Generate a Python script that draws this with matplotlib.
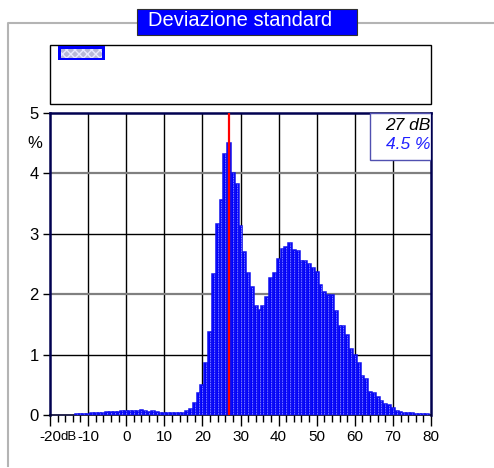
import matplotlib
matplotlib.use("Agg")
import matplotlib.pyplot as plt
from matplotlib.patches import Rectangle
import numpy as np

plt.rcParams['font.family'] = ['Liberation Sans', 'DejaVu Sans']

# histogram of the standard deviation (1 dB classes)
db_levels = list(range(-13, 80))
percent = [0.02, 0.02, 0.02, 0.02, 0.03, 0.03, 0.04, 0.04, 0.05, 0.05,
           0.05, 0.05, 0.06, 0.06, 0.06, 0.06, 0.07, 0.08, 0.06, 0.05,
           0.06, 0.05, 0.04, 0.04, 0.03, 0.03, 0.03, 0.03, 0.04, 0.06,
           0.10, 0.20, 0.37, 0.50, 0.86, 1.38, 2.33, 3.16, 3.56, 4.32,
           4.51, 4.00, 3.82, 3.13, 2.70, 2.35, 2.12, 1.80, 1.74, 1.80,
           1.96, 2.27, 2.35, 2.58, 2.75, 2.78, 2.84, 2.73, 2.72, 2.55,
           2.55, 2.50, 2.43, 2.37, 2.15, 2.04, 1.99, 1.99, 1.73, 1.47,
           1.47, 1.32, 1.09, 1.00, 0.86, 0.65, 0.60, 0.38, 0.37, 0.29,
           0.23, 0.18, 0.17, 0.11, 0.07, 0.05, 0.04, 0.03, 0.03, 0.015,
           0.015, 0.015, 0.015]
mode_db = 27
mode_pct = 4.5
x_ticks = [-20, -10, 0, 10, 20, 30, 40, 50, 60, 70, 80]
y_ticks = [0, 1, 2, 3, 4, 5]

W, H = 494, 468
fig = plt.figure(figsize=(W / 100, H / 100), dpi=100)

# overlay in pixel coordinates for frame, title and legend
bg = fig.add_axes([0, 0, 1, 1])
bg.set_xlim(0, W)
bg.set_ylim(H, 0)
bg.axis('off')
bg.plot([8, 8, W], [466, 23, 23], color='#b4b4b4', lw=1.5)
bg.add_patch(Rectangle((137, 9), 220, 26, facecolor='#0000ff', edgecolor='#303030', lw=0.8, zorder=3))
bg.text(240, 21, 'Deviazione standard', color='white', fontsize=14.5, ha='center', va='center', zorder=4)
bg.add_patch(Rectangle((50, 45), 381, 59, facecolor='white', edgecolor='black', lw=1))
bg.add_patch(Rectangle((58, 46), 47, 14, facecolor='#0000ff', edgecolor='none'))
bg.add_patch(Rectangle((61, 48.5), 41, 9, facecolor='#b8b8d8', edgecolor='#e8e8ff', hatch='xxxx', lw=0))
bg.text(35, 143, '%', fontsize=12, ha='center', va='center')

# main chart
ax = fig.add_axes([50 / W, (H - 415) / H, 381 / W, 302 / H])
ax.bar(db_levels, percent, width=1, color='#0000ff', edgecolor='#1010f0', lw=1.1, zorder=3)
ax.vlines(db_levels, 0, percent, colors='#b0b0ff', linestyles=(0, (1, 1)), lw=0.6, zorder=4)
ax.axvline(mode_db, color='#ff0000', lw=1.6, zorder=5)

ax.set_xlim(-20, 80)
ax.set_ylim(0, 5)
for xv in x_ticks[1:-1]:
    ax.axvline(xv, color='black', lw=1, zorder=1)
for yv in [1, 3]:
    ax.axhline(yv, color='black', lw=1, zorder=1)
for yv in [2, 4]:
    ax.axhline(yv, color='#808080', lw=1.6, zorder=1)

ax.set_xticks(x_ticks)
ax.set_xticks(np.arange(-20, 81, 2), minor=True)
ax.set_yticks(y_ticks)
ax.tick_params(axis='x', which='major', length=8, width=1, pad=3, labelsize=11)
ax.tick_params(axis='x', which='minor', length=5, width=1)
ax.tick_params(axis='y', length=5, width=1, pad=3, labelsize=12)
ax.set_xticklabels([str(v) for v in x_ticks])
ax.set_yticklabels([str(v) for v in y_ticks])
ax.annotate('dB', xy=(-15.0, 0), xytext=(0, -11.5), textcoords='offset points',
            fontsize=9.5, ha='center', va='top', annotation_clip=False)

for side in ['top', 'right', 'left']:
    ax.spines[side].set_color('#000050')
    ax.spines[side].set_linewidth(1.8)
ax.spines['bottom'].set_color('#000030')
ax.spines['bottom'].set_linewidth(1.2)

# mode annotation box
ax.add_patch(Rectangle((0.84, 0.845), 0.16, 0.155, transform=ax.transAxes,
                       facecolor='white', edgecolor='#5050b0', lw=1, zorder=6))
ax.text(0.998, 0.96, f'{mode_db} dB', transform=ax.transAxes, fontsize=12.5,
        style='italic', ha='right', va='center', zorder=7)
ax.text(0.998, 0.897, f'{mode_pct} %', transform=ax.transAxes, fontsize=12.5,
        style='italic', color='#2020ff', ha='right', va='center', zorder=7)

fig.savefig('out.png', dpi=100)
